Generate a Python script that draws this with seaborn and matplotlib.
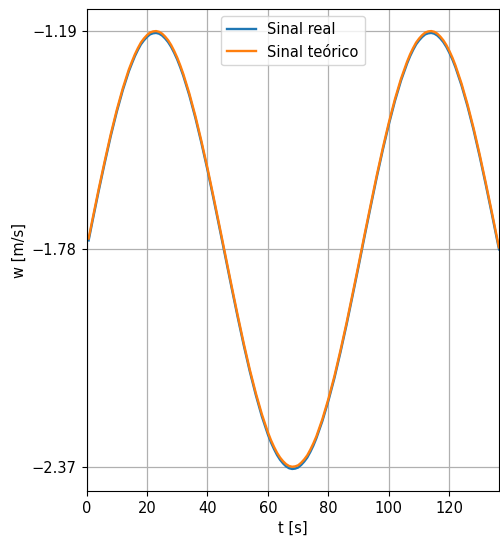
import matplotlib
matplotlib.use("Agg")
import matplotlib.pyplot as plt
import seaborn as sns
import pandas as pd

# Time samples [s]
t = [0.7, 2, 4, 6, 8, 10, 12, 14,
     15, 16, 17, 18, 19, 20, 21, 22, 23, 24, 25, 26, 27, 28, 29, 30, 31,
     32, 34, 36, 38, 40, 42, 44, 46, 48, 50, 52, 54, 56, 58, 60,
     61, 62, 63, 64, 65, 66, 67, 68, 69, 70, 71, 72, 73, 74, 75,
     76, 78, 80, 82, 84, 86, 88, 90, 92, 94, 96, 98, 100, 102, 104, 106,
     107, 108, 109, 110, 111, 112, 113, 114, 115, 116, 117, 118, 119, 120, 121,
     122, 124, 126, 128, 130, 132, 134, 136, 136.4]

# Theoretical vertical velocity [m/s]
w_teorico = [-1.752, -1.699, -1.619, -1.543, -1.470, -1.404, -1.345, -1.294,
             -1.273, -1.253, -1.236, -1.221, -1.210, -1.201, -1.194, -1.191, -1.190, -1.192,
             -1.197, -1.205, -1.215, -1.228, -1.244, -1.262, -1.283,
             -1.306, -1.359, -1.420, -1.488, -1.561, -1.639, -1.719, -1.800, -1.881, -1.960,
             -2.036, -2.107, -2.171, -2.228, -2.277,
             -2.298, -2.316, -2.332, -2.345, -2.355, -2.363, -2.368, -2.370, -2.369, -2.366,
             -2.359, -2.350, -2.339, -2.324, -2.307,
             -2.288, -2.241, -2.186, -2.124, -2.054, -1.980, -1.901, -1.821, -1.739, -1.659,
             -1.580, -1.506, -1.437, -1.374, -1.319, -1.273,
             -1.253, -1.236, -1.221, -1.210, -1.201, -1.194, -1.191, -1.190, -1.192, -1.197,
             -1.205, -1.215, -1.228, -1.244, -1.262,
             -1.283, -1.332, -1.389, -1.453, -1.524, -1.600, -1.679, -1.760, -1.776]

# Measured vertical velocity [m/s]
w_real = [-1.757, -1.704, -1.624, -1.548, -1.475, -1.409, -1.350, -1.299,
          -1.278, -1.258, -1.241, -1.226, -1.215, -1.206, -1.199, -1.196, -1.195, -1.197,
          -1.202, -1.210, -1.220, -1.233, -1.249, -1.267, -1.288,
          -1.311, -1.364, -1.425, -1.493, -1.566, -1.644, -1.724, -1.805, -1.886, -1.965,
          -2.041, -2.112, -2.176, -2.234, -2.283,
          -2.304, -2.322, -2.338, -2.351, -2.361, -2.369, -2.374, -2.376, -2.375, -2.372,
          -2.365, -2.356, -2.345, -2.330, -2.313,
          -2.293, -2.246, -2.191, -2.129, -2.059, -1.985, -1.906, -1.826, -1.744, -1.664,
          -1.585, -1.511, -1.442, -1.379, -1.324, -1.278,
          -1.258, -1.241, -1.226, -1.215, -1.206, -1.199, -1.196, -1.195, -1.197, -1.202,
          -1.210, -1.220, -1.233, -1.249, -1.267,
          -1.288, -1.337, -1.394, -1.458, -1.529, -1.605, -1.684, -1.765, -1.781]

yticks = [-1.19, -1.78, -2.37]
ytick_labels = ["\u22121.19", "\u22121.78", "\u22122.37"]
xticks = [0, 20, 40, 60, 80, 100, 120]

df = pd.concat([
    pd.DataFrame({"t": t, "w": w_real, "sinal": "Sinal real"}),
    pd.DataFrame({"t": t, "w": w_teorico, "sinal": "Sinal teórico"}),
], ignore_index=True)

plt.rcParams["font.size"] = 10.5

fig, ax = plt.subplots(figsize=(5, 5.4), dpi=100)
fig.subplots_adjust(left=0.173, right=0.998, top=0.983, bottom=0.091)

sns.lineplot(data=df, x="t", y="w", hue="sinal", estimator=None, sort=False,
             palette={"Sinal real": "#1f77b4", "Sinal teórico": "#ff7f0e"},
             linewidth=1.7, ax=ax)

ax.set_xlim(0, max(t))
ax.set_xticks(xticks)
ax.set_yticks(yticks)
ax.set_yticklabels(ytick_labels)
ax.set_xlabel("t [s]")
ax.set_ylabel("w [m/s]")
ax.grid(True, color="#b0b0b0", linewidth=0.9)
ax.set_axisbelow(True)

handles, labels = ax.get_legend_handles_labels()
ax.legend(handles, labels, loc="upper center")

fig.savefig("out.png", dpi=100)
